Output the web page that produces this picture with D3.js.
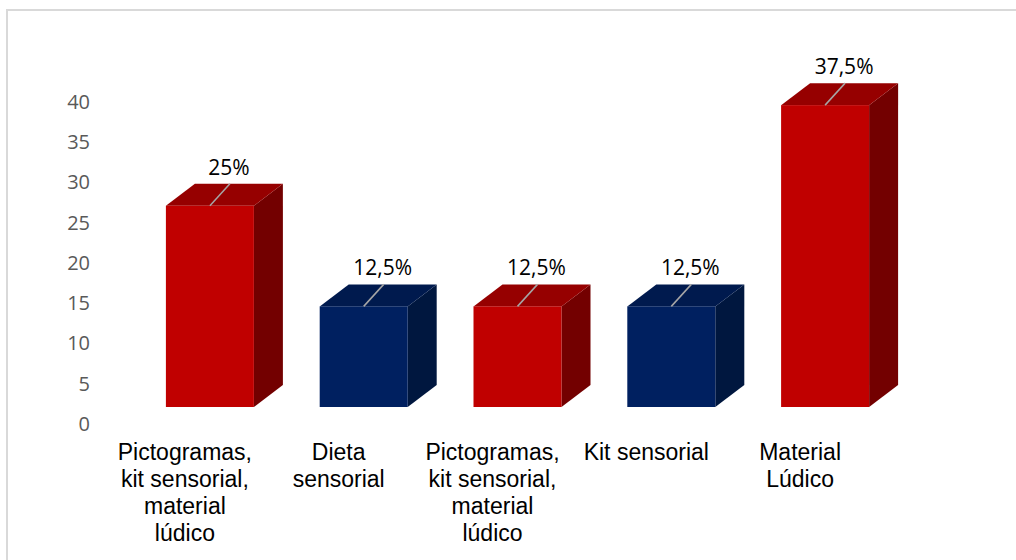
<!DOCTYPE html>
<html>
<head>
<meta charset="utf-8">
<script src="https://cdn.jsdelivr.net/npm/d3@7"></script>
<style>
  html, body { margin: 0; padding: 0; background: #fff; }
  svg { display: block; }
</style>
</head>
<body>
<svg id="chart" width="1016" height="560"></svg>
<script>
const categories = [
  ["Pictogramas,", "kit sensorial,", "material", "lúdico"],
  ["Dieta", "sensorial"],
  ["Pictogramas,", "kit sensorial,", "material", "lúdico"],
  ["Kit sensorial"],
  ["Material", "Lúdico"]
];
const values = [25, 12.5, 12.5, 12.5, 37.5];
const dataLabels = ["25%", "12,5%", "12,5%", "12,5%", "37,5%"];
const colorKeys = ["red", "blue", "red", "blue", "red"];
const tickValues = [0, 5, 10, 15, 20, 25, 30, 35, 40];

const palette = {
  red:  { front: "#C00000", top: "#960000", side: "#730000" },
  blue: { front: "#002060", top: "#001A4E", side: "#00173F" }
};

const svg = d3.select("#chart");
const W = 1016, H = 560;

// Border
svg.append("rect")
  .attr("x", 7).attr("y", 10)
  .attr("width", W + 20).attr("height", H + 20)
  .attr("fill", "#fff").attr("stroke", "#D9D9D9").attr("stroke-width", 2);

const idx = d3.range(values.length);
const x = d3.scaleBand().domain(idx).range([133, 902]).paddingInner(0).paddingOuter(0);
const y = d3.scaleLinear().domain([0, 40]).range([407, 85]);
const barW = 88;
const dx = 29, dy = -22;

// Y axis (labels only), drawn in the floor plane offset
const axisG = svg.append("g")
  .attr("transform", "translate(90,17)")
  .call(d3.axisLeft(y).tickValues(tickValues).tickSize(0).tickPadding(0));
axisG.select(".domain").remove();
axisG.selectAll("text")
  .attr("font-family", "'Open Sans', sans-serif")
  .attr("font-size", 20)
  .attr("fill", "#595959")
  .attr("text-anchor", "end");

// Bars
const bars = svg.append("g").selectAll("g.bar").data(idx).join("g").attr("class", "bar");
bars.each(function(i) {
  const g = d3.select(this);
  const cx = x(i) + x.bandwidth() / 2;
  const x0 = cx - barW / 2, x1 = cx + barW / 2;
  const yt = y(values[i]), yb = y(0);
  const c = palette[colorKeys[i]];
  // side
  g.append("path")
    .attr("d", `M${x1},${yt} L${x1 + dx},${yt + dy} L${x1 + dx},${yb + dy} L${x1},${yb} Z`)
    .attr("fill", c.side);
  // top
  g.append("path")
    .attr("d", `M${x0},${yt} L${x0 + dx},${yt + dy} L${x1 + dx},${yt + dy} L${x1},${yt} Z`)
    .attr("fill", c.top);
  // front
  g.append("rect")
    .attr("x", x0).attr("y", yt).attr("width", barW).attr("height", yb - yt)
    .attr("fill", c.front);
  // leader line
  g.append("line")
    .attr("x1", cx).attr("y1", yt)
    .attr("x2", cx + 20).attr("y2", yt - 22)
    .attr("stroke", "#A6A6A6").attr("stroke-width", 1.5);
  // data label
  g.append("text")
    .attr("x", cx + 19).attr("y", yt - 31)
    .attr("text-anchor", "middle")
    .attr("font-family", "'Open Sans', sans-serif")
    .attr("font-size", 21)
    .attr("fill", "#000")
    .text(dataLabels[i]);
});

// Category labels
const catG = svg.append("g");
idx.forEach(i => {
  const cx = x(i) + x.bandwidth() / 2 - 25;
  const t = catG.append("text")
    .attr("x", cx).attr("y", 460)
    .attr("text-anchor", "middle")
    .attr("font-family", "'Liberation Sans', Arial, sans-serif")
    .attr("font-size", 23)
    .attr("fill", "#000");
  categories[i].forEach((line, k) => {
    t.append("tspan").attr("x", cx).attr("dy", k === 0 ? 0 : 27).text(line);
  });
});
</script>
</body>
</html>
